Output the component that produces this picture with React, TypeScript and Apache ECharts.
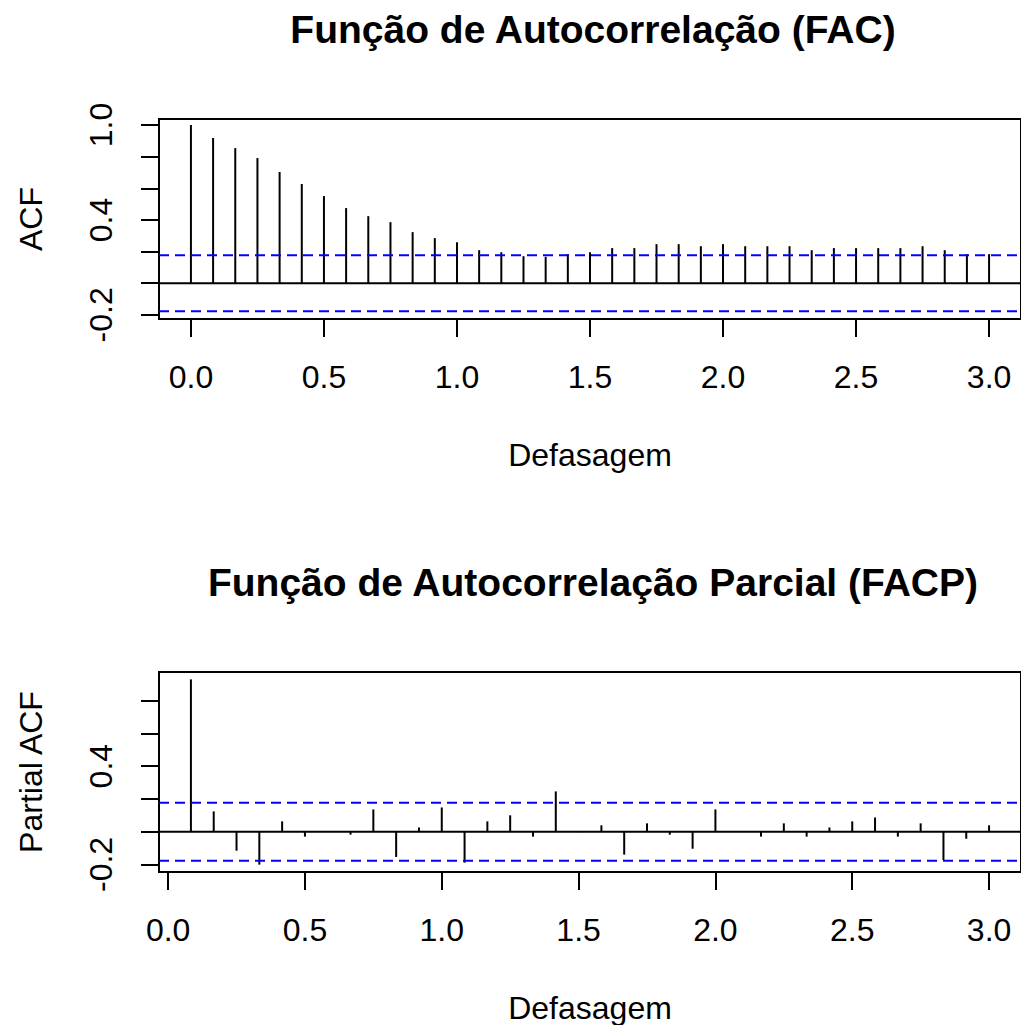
import React, { useEffect, useRef } from "react";
import * as echarts from "echarts";

const FONT = "'Liberation Sans', Arial, Helvetica, sans-serif";

const acfTitle = "Função de Autocorrelação (FAC)";
const pacfTitle = "Função de Autocorrelação Parcial (FACP)";
const xName = "Defasagem";
const acfYName = "ACF";
const pacfYName = "Partial ACF";

// lags are in years (monthly series, frequency 12)
const acfLags = Array.from({ length: 37 }, (_, i) => i / 12);
const acfValues = [
  1.0, 0.918, 0.854, 0.791, 0.703, 0.627, 0.551, 0.475, 0.424, 0.386, 0.323, 0.285, 0.259,
  0.209, 0.196, 0.171, 0.167, 0.184, 0.196, 0.222, 0.222, 0.247, 0.247, 0.234, 0.247,
  0.234, 0.234, 0.234, 0.209, 0.222, 0.222, 0.222, 0.222, 0.234, 0.209, 0.184, 0.184,
];

const pacfLags = Array.from({ length: 36 }, (_, i) => (i + 1) / 12);
const pacfValues = [
  0.93, 0.124, -0.116, -0.201, 0.063, -0.03, 0.004, -0.018, 0.136, -0.154, 0.026, 0.148,
  -0.189, 0.063, 0.1, -0.03, 0.246, -0.003, 0.039, -0.14, 0.051, -0.018, -0.104, 0.136,
  0.004, -0.03, 0.051, -0.03, 0.026, 0.063, 0.087, -0.03, 0.051, -0.173, -0.043, 0.039,
];

const confLimit = 0.177;

const xTicks = [0, 0.5, 1.0, 1.5, 2.0, 2.5, 3.0];
const acfYTicks = [-0.2, 0, 0.2, 0.4, 0.6, 0.8, 1.0];
const acfYLabels = [-0.2, 0.4, 1.0];
const pacfYTicks = [-0.2, 0, 0.2, 0.4, 0.6, 0.8];
const pacfYLabels = [-0.2, 0.4];

const acfXRange = [-0.12, 3.12];
const acfYRange = [-0.226, 1.038];
const pacfXRange = [-0.0333, 3.1167];
const pacfYRange = [-0.246, 0.975];

export default function App() {
  const ref = useRef<HTMLDivElement>(null);

  useEffect(() => {
    if (!ref.current) return;
    const chart = echarts.init(ref.current, null, { renderer: "svg" });

    const tickFont = { fontFamily: FONT, fontSize: 32, color: "#000" };

    const makeX = (gridIndex: number, range: number[]) => ({
      type: "value",
      gridIndex,
      min: range[0],
      max: range[1],
      name: xName,
      nameLocation: "middle",
      nameGap: 120,
      nameTextStyle: { ...tickFont },
      axisLine: { show: false, onZero: false },
      splitLine: { show: false },
      axisTick: {
        show: true,
        inside: false,
        length: 18,
        customValues: xTicks,
        lineStyle: { color: "#000", width: 2 },
      },
      axisLabel: {
        ...tickFont,
        margin: 42,
        customValues: xTicks,
        formatter: (v: number) => v.toFixed(1),
      },
    });

    const makeY = (gridIndex: number, range: number[], ticks: number[], labels: number[], name: string) => ({
      type: "value",
      gridIndex,
      min: range[0],
      max: range[1],
      name,
      nameLocation: "middle",
      nameGap: 112,
      nameTextStyle: { ...tickFont },
      axisLine: { show: false, onZero: false },
      splitLine: { show: false },
      axisTick: {
        show: true,
        inside: false,
        length: 18,
        customValues: ticks,
        lineStyle: { color: "#000", width: 2 },
      },
      axisLabel: {
        ...tickFont,
        margin: 42,
        rotate: 90,
        customValues: labels,
        formatter: (v: number) => v.toFixed(1),
      },
    });

    const stems = (xi: number, lags: number[], vals: number[]) => ({
      type: "custom",
      xAxisIndex: xi,
      yAxisIndex: xi,
      data: lags.map((l, i) => [l, vals[i]]),
      encode: { x: 0, y: 1 },
      renderItem: (_p: any, api: any) => {
        const x = api.value(0);
        const y = api.value(1);
        const p0 = api.coord([x, 0]);
        const p1 = api.coord([x, y]);
        return {
          type: "line",
          shape: { x1: p0[0], y1: p0[1], x2: p1[0], y2: p1[1] },
          style: { stroke: "#000", lineWidth: 2 },
        };
      },
      z: 3,
    });

    const hline = (xi: number, range: number[], y: number, dashed: boolean) => ({
      type: "line",
      xAxisIndex: xi,
      yAxisIndex: xi,
      data: [
        [range[0], y],
        [range[1], y],
      ],
      symbol: "none",
      silent: true,
      lineStyle: dashed
        ? { color: "#0000ff", width: 2, type: [10, 6] }
        : { color: "#000", width: 2, type: "solid" },
      z: dashed ? 4 : 2,
    });

    chart.setOption({
      animation: false,
      backgroundColor: "#fff",
      grid: [
        { left: 159, top: 119, width: 868, height: 200, show: true, borderColor: "#000", borderWidth: 2, backgroundColor: "transparent" },
        { left: 159, top: 672, width: 868, height: 200, show: true, borderColor: "#000", borderWidth: 2, backgroundColor: "transparent" },
      ],
      xAxis: [makeX(0, acfXRange), makeX(1, pacfXRange)],
      yAxis: [
        makeY(0, acfYRange, acfYTicks, acfYLabels, acfYName),
        makeY(1, pacfYRange, pacfYTicks, pacfYLabels, pacfYName),
      ],
      graphic: [
        {
          type: "text",
          x: 593,
          y: 29,
          style: {
            text: acfTitle,
            font: `bold 39px ${FONT}`,
            fill: "#000",
            textAlign: "center",
            textVerticalAlign: "middle",
          },
        },
        {
          type: "text",
          x: 593,
          y: 582,
          style: {
            text: pacfTitle,
            font: `bold 39px ${FONT}`,
            fill: "#000",
            textAlign: "center",
            textVerticalAlign: "middle",
          },
        },
      ],
      series: [
        hline(0, acfXRange, 0, false),
        stems(0, acfLags, acfValues),
        hline(0, acfXRange, confLimit, true),
        hline(0, acfXRange, -confLimit, true),
        hline(1, pacfXRange, 0, false),
        stems(1, pacfLags, pacfValues),
        hline(1, pacfXRange, confLimit, true),
        hline(1, pacfXRange, -confLimit, true),
      ],
    });

    return () => chart.dispose();
  }, []);

  return (
    <div
      ref={ref}
      style={{ position: "absolute", left: 0, top: 0, width: 1021, height: 1025, background: "#fff" }}
    />
  );
}
